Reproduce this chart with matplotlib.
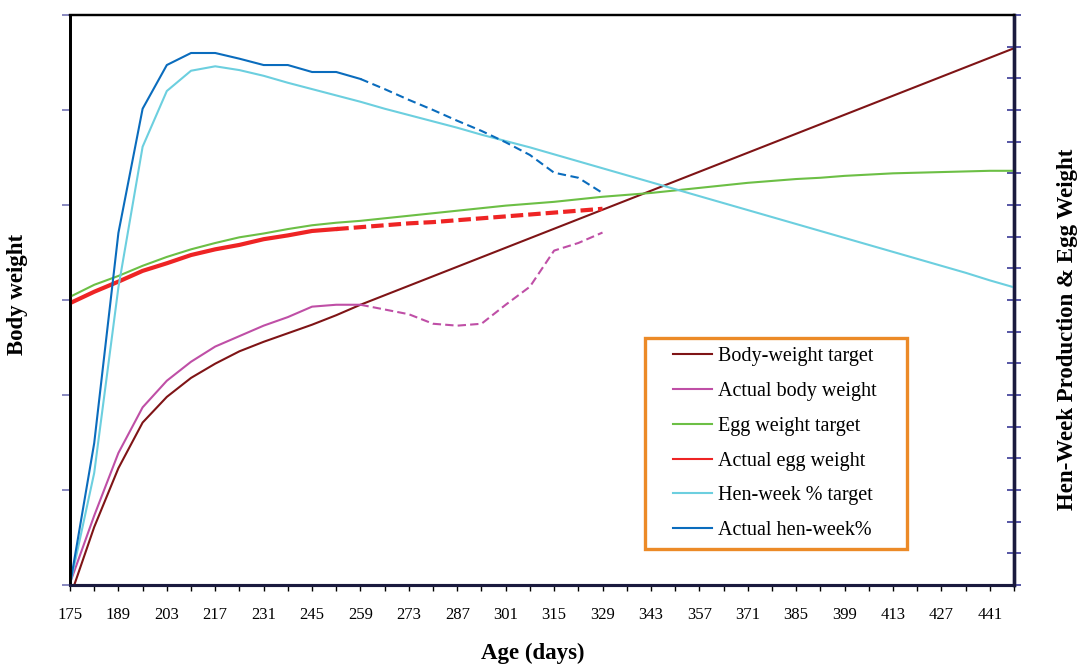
import matplotlib
matplotlib.use("Agg")
import matplotlib.pyplot as plt
from matplotlib.lines import Line2D
from matplotlib.legend_handler import HandlerBase

# Age in days (weekly)
age_days = [175, 182, 189, 196, 203, 210, 217, 224, 231, 238,
            245, 252, 259, 266, 273, 280, 287, 294, 301, 308,
            315, 322, 329, 336, 343, 350, 357, 364, 371, 378,
            385, 392, 399, 406, 413, 420, 427, 434, 441, 448]

# Body weight (g), left axis
bw_target = [1187, 1261, 1323, 1371, 1398, 1418, 1433, 1446, 1456, 1465,
             1474, 1484, 1495, 1505, 1515, 1525, 1535, 1545, 1555, 1565,
             1575, 1585, 1595, 1605, 1615, 1625, 1635, 1645, 1655, 1665,
             1675, 1685, 1695, 1705, 1715, 1725, 1735, 1745, 1755, 1765]
bw_actual = [1202, 1273, 1339, 1387, 1415, 1435, 1451, 1462, 1473, 1482,
             1493, 1495, 1495, 1490, 1485, 1475, 1473, 1475, 1495, 1514,
             1552, 1560, 1571]

# Egg weight (g), right axis
egg_target = [45.5, 47.4, 48.8, 50.4, 51.8, 53.0, 54.0, 54.9, 55.5, 56.2,
              56.8, 57.2, 57.5, 57.9, 58.3, 58.7, 59.1, 59.5, 59.9, 60.2,
              60.5, 60.9, 61.3, 61.6, 61.9, 62.3, 62.7, 63.1, 63.5, 63.8,
              64.1, 64.3, 64.6, 64.8, 65.0, 65.1, 65.2, 65.3, 65.4, 65.4]
egg_actual = [44.5, 46.3, 47.9, 49.6, 50.8, 52.1, 53.0, 53.7, 54.6, 55.2,
              55.9, 56.2, 56.5, 56.8, 57.1, 57.3, 57.6, 57.9, 58.2, 58.5,
              58.8, 59.1, 59.4]

# Hen-week production (%), right axis
hw_target = [0.0, 17.7, 47.0, 69.2, 78.0, 81.2, 81.9, 81.3, 80.4, 79.3,
             78.3, 77.3, 76.3, 75.2, 74.2, 73.2, 72.2, 71.1, 70.1, 69.1,
             68.0, 66.9, 65.8, 64.7, 63.6, 62.5, 61.4, 60.3, 59.2, 58.1,
             57.0, 55.9, 54.8, 53.7, 52.6, 51.5, 50.4, 49.3, 48.1, 47.0]
hw_actual = [0.0, 22.4, 55.6, 75.2, 82.1, 84.0, 84.0, 83.1, 82.1, 82.1,
             81.0, 81.0, 79.9, 78.3, 76.6, 75.0, 73.3, 71.7, 69.9, 67.9,
             65.1, 64.3, 61.9]

# index of last solid (recorded) point for the actual series
n_solid = 13      # up to day 259
n_solid_egg = 12  # up to day 252

C_BW_T = "#7f1416"
C_BW_A = "#bf4fa6"
C_EGG_T = "#6cbf45"
C_EGG_A = "#ee2424"
C_HW_T = "#6ccfdf"
C_HW_A = "#0a6cbd"
C_FRAME = "#ec8a27"

plt.rcParams["font.family"] = ["Liberation Serif", "DejaVu Serif"]


class InsetLineHandler(HandlerBase):
    """Legend key: a short line drawn in the right part of the handle box."""

    def __init__(self, frac=0.33, **kw):
        super().__init__(**kw)
        self.frac = frac

    def create_artists(self, legend, orig_handle, xdescent, ydescent,
                       width, height, fontsize, trans):
        y = (height - ydescent) / 2.0
        x0 = -xdescent + width * self.frac
        ln = Line2D([x0, -xdescent + width], [y, y],
                    color=orig_handle.get_color(),
                    lw=orig_handle.get_linewidth())
        ln.set_transform(trans)
        return [ln]


fig = plt.figure(figsize=(10.82, 6.66), dpi=100)
ax = fig.add_axes([70 / 1082, 1 - 585 / 666, 944 / 1082, 570 / 666])
ax2 = ax.twinx()

lw = 1.5
n = len(bw_actual)
# left axis: body weight
ax.plot(age_days, bw_target, color=C_BW_T, lw=lw)
ax.plot(age_days[:n_solid], bw_actual[:n_solid], color=C_BW_A, lw=lw)
ax.plot(age_days[n_solid - 1:n], bw_actual[n_solid - 1:], color=C_BW_A,
        lw=lw, dashes=(4, 2))

# right axis: egg weight and hen-week production
ax2.plot(age_days, egg_target, color=C_EGG_T, lw=lw)
ax2.plot(age_days[:n_solid_egg], egg_actual[:n_solid_egg], color=C_EGG_A, lw=3.0)
ax2.plot(age_days[n_solid_egg - 1:n], egg_actual[n_solid_egg - 1:], color=C_EGG_A,
         lw=3.0, dashes=(3, 1.2))
ax2.plot(age_days, hw_target, color=C_HW_T, lw=lw)
ax2.plot(age_days[:n_solid], hw_actual[:n_solid], color=C_HW_A, lw=lw)
ax2.plot(age_days[n_solid - 1:n], hw_actual[n_solid - 1:], color=C_HW_A,
         lw=lw, dashes=(4, 2.2))

ax.set_xlim(175, 448)
ax.set_ylim(1200, 1800)
ax2.set_ylim(0, 90)

ax.set_yticks(range(1200, 1801, 100))
ax.set_yticklabels([])
ax2.set_yticks(range(0, 91, 5))
ax2.set_yticklabels([])

ax.set_xticks(age_days)
ax.set_xticklabels([str(d) if i % 2 == 0 else "" for i, d in enumerate(age_days)],
                   fontsize=12)

ax.tick_params(axis="y", direction="out", length=6, width=1.2, color="#7474b4")
ax.tick_params(axis="x", direction="out", length=4, width=1.0, color="black", pad=12)
ax2.tick_params(axis="y", direction="inout", length=10, width=1.2, color="#3a3a96")

for a in (ax, ax2):
    a.spines["left"].set_color("black")
    a.spines["left"].set_linewidth(2.0)
    a.spines["top"].set_color("black")
    a.spines["top"].set_linewidth(1.6)
    a.spines["right"].set_color("#1a1a3e")
    a.spines["right"].set_linewidth(2.4)
    a.spines["bottom"].set_color("#1a1a3e")
    a.spines["bottom"].set_linewidth(2.2)

fig.text(18 / 1082, 1 - 294 / 666, "Body weight", rotation=90, ha="center",
         va="center", fontsize=16.5, fontweight="bold")
fig.text(1068 / 1082, 1 - 329 / 666, "Hen-Week Production & Egg Weight",
         rotation=90, ha="center", va="center", fontsize=16.5, fontweight="bold")
fig.text(533 / 1082, 1 - 653 / 666, "Age (days)", ha="center", va="center",
         fontsize=16.5, fontweight="bold")

handles = [Line2D([], [], color=C_BW_T, lw=lw),
           Line2D([], [], color=C_BW_A, lw=lw),
           Line2D([], [], color=C_EGG_T, lw=lw),
           Line2D([], [], color=C_EGG_A, lw=lw),
           Line2D([], [], color=C_HW_T, lw=lw),
           Line2D([], [], color=C_HW_A, lw=lw)]
labels = ["Body-weight target", "Actual body weight", "Egg weight target",
          "Actual egg weight", "Hen-week % target", "Actual hen-week%"]
box_x0 = (645 - 70) / 944
box_y0 = (585 - 550) / 570
box_w = (907 - 645) / 944
box_h = (550 - 338) / 570
leg = ax2.legend(handles, labels, loc="upper left", mode="expand",
                 bbox_to_anchor=(box_x0, box_y0, box_w, box_h),
                 fontsize=14.5, frameon=True, fancybox=False,
                 handlelength=2.9, handletextpad=0.25, labelspacing=0.78,
                 borderpad=0.45, borderaxespad=0.0,
                 handler_map={Line2D: InsetLineHandler(frac=0.33)})
leg.get_frame().set_edgecolor(C_FRAME)
leg.get_frame().set_linewidth(2.4)
leg.get_frame().set_facecolor("white")
leg.get_frame().set_alpha(1.0)

fig.savefig("out.png", dpi=100)
